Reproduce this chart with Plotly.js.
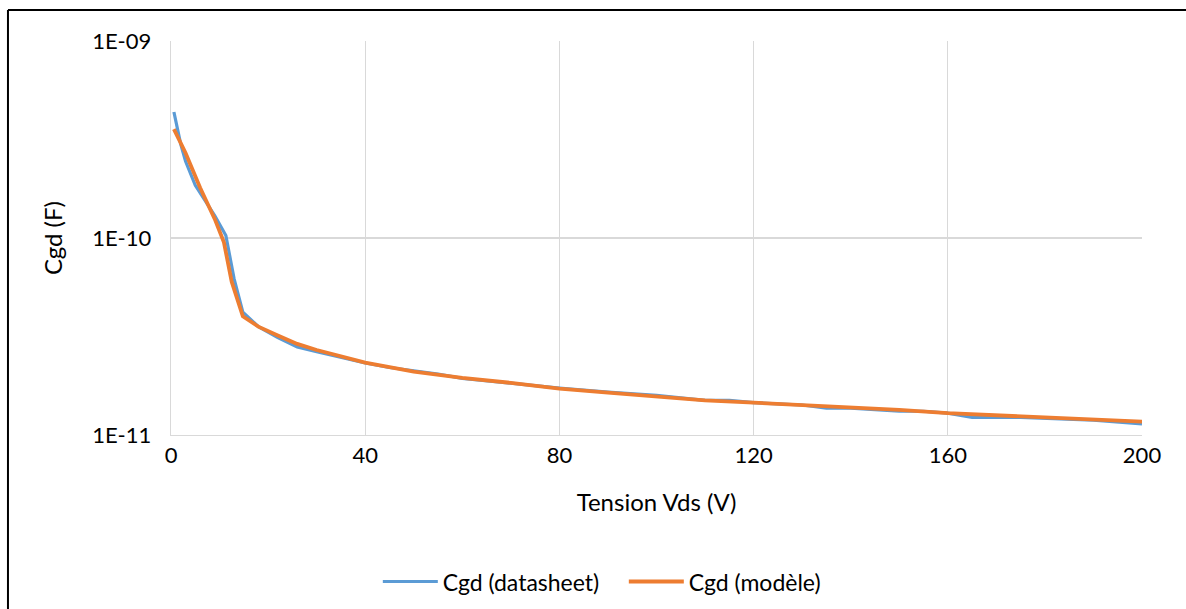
<!DOCTYPE html>
<html>
<head>
<meta charset="utf-8">
<script src="https://cdn.plot.ly/plotly-3.0.1.min.js"></script>
<style>
html,body{margin:0;padding:0;background:#fff;}
#chart{width:1186px;height:609px;}
</style>
</head>
<body>
<div id="chart"></div>
<script>
// Datasheet series
const vdsDatasheet = [0.6, 2, 3, 5, 7, 9, 11.3, 13, 14.8, 18, 22, 26, 30, 35, 40, 45, 50, 55, 60, 70, 80, 90, 100, 110, 115, 120, 130, 135, 140, 150, 155, 160, 165, 175, 185, 190, 200];
const cgdDatasheet = [4.36e-10, 3.0e-10, 2.45e-10, 1.85e-10, 1.55e-10, 1.3e-10, 1.03e-10, 6.2e-11, 4.2e-11, 3.55e-11, 3.12e-11, 2.8e-11, 2.65e-11, 2.48e-11, 2.32e-11, 2.2e-11, 2.12e-11, 2.04e-11, 1.94e-11, 1.83e-11, 1.73e-11, 1.65e-11, 1.59e-11, 1.5e-11, 1.5e-11, 1.46e-11, 1.42e-11, 1.37e-11, 1.37e-11, 1.32e-11, 1.32e-11, 1.29e-11, 1.23e-11, 1.23e-11, 1.21e-11, 1.19e-11, 1.14e-11];
// Model series
const vdsModele = [0.6, 3, 6, 9, 10.9, 12.5, 14.8, 18, 22, 26, 30, 35, 40, 50, 60, 70, 80, 90, 100, 110, 120, 130, 140, 150, 160, 170, 180, 190, 200];
const cgdModele = [3.57e-10, 2.7e-10, 1.8e-10, 1.25e-10, 9.5e-11, 6.0e-11, 4.0e-11, 3.55e-11, 3.2e-11, 2.9e-11, 2.7e-11, 2.5e-11, 2.33e-11, 2.1e-11, 1.95e-11, 1.84e-11, 1.72e-11, 1.64e-11, 1.57e-11, 1.5e-11, 1.46e-11, 1.42e-11, 1.38e-11, 1.34e-11, 1.29e-11, 1.26e-11, 1.23e-11, 1.21e-11, 1.17e-11];
// Axis ticks
const xTicks = [0, 40, 80, 120, 160, 200];
const yTickVals = [1e-11, 1e-10, 1e-9];
const yTickText = ["1E-11", "1E-10", "1E-09"];
const seriesNames = ["Cgd (datasheet)", "Cgd (modèle)"];

const font = "Lato, 'Open Sans', sans-serif";

const traces = [
  {x: vdsDatasheet, y: cgdDatasheet, name: seriesNames[0], mode: "lines",
   line: {color: "#5B9BD5", width: 3.2}},
  {x: vdsModele, y: cgdModele, name: seriesNames[1], mode: "lines",
   line: {color: "#ED7D31", width: 3.8}}
];

const layout = {
  width: 1186, height: 609,
  paper_bgcolor: "#fff", plot_bgcolor: "#fff",
  margin: {l: 171, r: 44, t: 41, b: 174, autoexpand: false},
  font: {family: font, size: 22, color: "#000"},
  showlegend: true,
  legend: {orientation: "h", x: 0.213, xanchor: "left", y: -0.372, yanchor: "middle",
           font: {family: font, size: 23, color: "#000"}, itemwidth: 55,
           entrywidth: 176},
  xaxis: {
    range: [0, 200], tickmode: "array", tickvals: xTicks,
    showgrid: true, gridcolor: "#D9D9D9", gridwidth: 1.3,
    showline: true, linecolor: "#D9D9D9", linewidth: 1.3,
    zeroline: false, ticks: "", ticklabelstandoff: 0,
    tickfont: {family: font, size: 22, color: "#000"},
    title: {text: "Tension Vds (V)", font: {family: font, size: 24, color: "#000"}, standoff: 27}
  },
  yaxis: {
    type: "log", range: [-11, -9], tickmode: "array",
    tickvals: yTickVals, ticktext: yTickText,
    showgrid: true, gridcolor: "#D9D9D9", gridwidth: 1.3,
    showline: true, linecolor: "#D9D9D9", linewidth: 1.3,
    zeroline: false, ticks: "", ticklabelstandoff: 14,
    tickfont: {family: font, size: 22, color: "#000"},
    title: {text: "Cgd (F)", font: {family: font, size: 24, color: "#000"}, standoff: 22}
  },
  shapes: [
    {type: "line", xref: "paper", yref: "paper", x0: -0.1679, x1: -0.1679, y0: -0.5, y1: 1.0787,
     line: {color: "#000", width: 2}},
    {type: "line", xref: "paper", yref: "paper", x0: -0.1679, x1: 1.2, y0: 1.0787, y1: 1.0787,
     line: {color: "#000", width: 2}}
  ]
};

Plotly.newPlot("chart", traces, layout, {displayModeBar: false, staticPlot: true});
</script>
</body>
</html>
